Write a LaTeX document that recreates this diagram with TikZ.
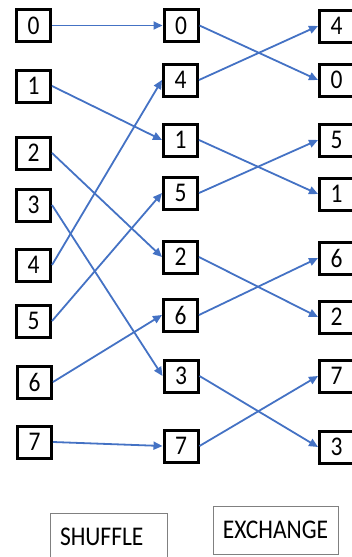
\documentclass[tikz,border=0pt]{standalone}
\usepackage{fontspec}
\setmainfont[FakeStretch=0.87]{Carlito}
\usetikzlibrary{arrows.meta}
\definecolor{linkblue}{RGB}{68,114,196}

\begin{document}
\begin{tikzpicture}[x=1pt,y=-1pt,
  cell/.style={draw, line width=3pt, minimum width=34pt, minimum height=32pt,
    inner sep=0pt, font=\fontsize{27}{27}\selectfont},
  link/.style={draw=linkblue, line width=1.8pt, -{Triangle[length=9pt,width=8pt]}},
  tag/.style={draw=gray, line width=0.8pt, inner sep=0pt, font=\fontsize{27}{27}\selectfont}]
  \useasboundingbox (0,0) rectangle (352,557);

  % input column
  \node[cell] (L0) at (33.5, 25.5) {0};
  \node[cell] (L1) at (33.5, 86) {1};
  \node[cell] (L2) at (33.5, 153) {2};
  \node[cell] (L3) at (33.5, 205) {3};
  \node[cell] (L4) at (33.5, 265) {4};
  \node[cell] (L5) at (33.5, 321) {5};
  \node[cell] (L6) at (34.5, 382) {6};
  \node[cell] (L7) at (34.5, 442) {7};

  % after shuffle
  \node[cell] (M0) at (181, 25.5) {0};
  \node[cell] (M4) at (180.5, 80) {4};
  \node[cell] (M1) at (180.5, 140) {1};
  \node[cell] (M5) at (180.5, 193) {5};
  \node[cell] (M2) at (180.5, 257) {2};
  \node[cell] (M6) at (180.5, 315) {6};
  \node[cell] (M3) at (181, 376) {3};
  \node[cell] (M7) at (181, 446) {7};

  % after exchange
  \node[cell] (R4) at (336.5, 26) {4};
  \node[cell] (R0) at (336.5, 80) {0};
  \node[cell] (R5) at (336.5, 140) {5};
  \node[cell] (R1) at (336.5, 194) {1};
  \node[cell] (R6) at (336.5, 258) {6};
  \node[cell] (R2) at (336.5, 317) {2};
  \node[cell] (R7) at (336.5, 376) {7};
  \node[cell] (R3) at (336.5, 447) {3};

  \foreach \v in {0,...,7} {
    \draw[link] (L\v.east) -- (M\v.west);
    \draw[link] (M\v.east) -- (R\v.west);
  }

  \node[tag, minimum width=117pt, minimum height=47pt, inner xsep=10pt,
    text width=97pt, align=left] (shuffle) at (108.5, 536.5) {SHUFFLE};
  \node[tag, minimum width=125pt, minimum height=48pt] (exchange) at (275.5, 530) {EXCHANGE};
\end{tikzpicture}
\end{document}
